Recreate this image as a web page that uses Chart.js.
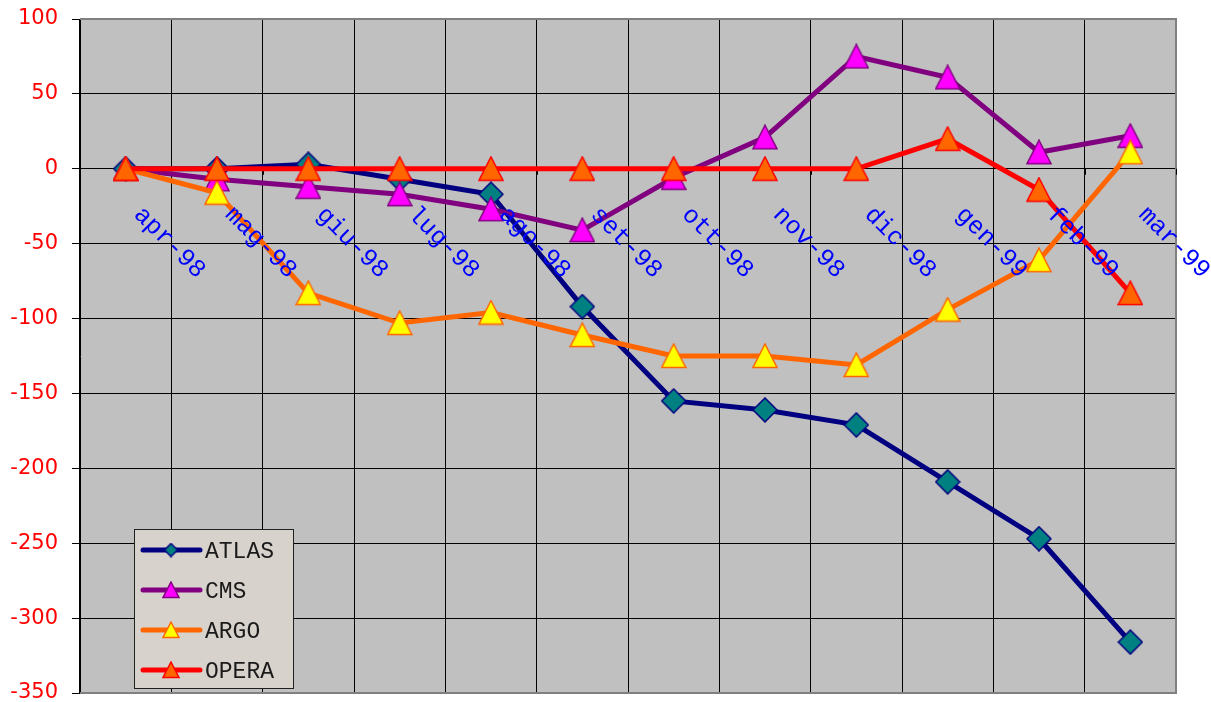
<!DOCTYPE html>
<html>
<head>
<meta charset="utf-8">
<script src="https://cdn.jsdelivr.net/npm/chart.js@4.4.1/dist/chart.umd.min.js"></script>
<style>
  html, body { margin: 0; padding: 0; background: #fff; }
</style>
</head>
<body>
<canvas id="chart" width="1211" height="702"></canvas>
<script>
// Chart data
const months = ["apr-98", "mag-98", "giu-98", "lug-98", "ago-98", "set-98", "ott-98", "nov-98", "dic-98", "gen-99", "feb-99", "mar-99"]
const atlas = [0, 0, 3, -7, -17, -92, -155, -161, -171, -209, -247, -316]
const cms = [0, -7, -12, -17, -27, -41, -6, 21, 75, 61, 11, 22]
const argo = [0, -16, -83, -103, -96, -111, -125, -125, -131, -94, -61, 11]
const opera = [0, 0, 0, 0, 0, 0, 0, 0, 0, 20, -14, -83]
const yTicks = [100, 50, 0, -50, -100, -150, -200, -250, -300, -350]

// Build marker images
function makeMarker(shape, fill, stroke, size) {
  const c = document.createElement("canvas")
  c.width = size
  c.height = size
  const g = c.getContext("2d")
  const s = size
  g.beginPath()
  if (shape === "diamond") {
    g.moveTo(s / 2, 1)
    g.lineTo(s - 1, s / 2)
    g.lineTo(s / 2, s - 1)
    g.lineTo(1, s / 2)
  } else {
    g.moveTo(s / 2, 1)
    g.lineTo(s - 1, s - 1.5)
    g.lineTo(1, s - 1.5)
  }
  g.closePath()
  g.fillStyle = fill
  g.fill()
  g.lineWidth = 1.5
  g.strokeStyle = stroke
  g.stroke()
  return c
}

const series = [
  { label: "ATLAS", data: atlas, line: "#000080", shape: "diamond", fill: "#008080", stroke: "#000080" },
  { label: "CMS", data: cms, line: "#800080", shape: "triangle", fill: "#FF00FF", stroke: "#800080" },
  { label: "ARGO", data: argo, line: "#FF6600", shape: "triangle", fill: "#FFFF00", stroke: "#FF6600" },
  { label: "OPERA", data: opera, line: "#FF0000", shape: "triangle", fill: "#FF6600", stroke: "#FF0000" },
]
series.forEach((s) => {
  s.marker = makeMarker(s.shape, s.fill, s.stroke, 26)
  s.small = makeMarker(s.shape, s.fill, s.stroke, s.shape === "diamond" ? 15 : 18)
})

// Grey plot background and frame
const plotBackground = {
  id: "plotBackground",
  beforeDraw(chart) {
    const { ctx, chartArea: a } = chart
    ctx.save()
    ctx.fillStyle = "#C0C0C0"
    ctx.fillRect(a.left, a.top, a.right - a.left, a.bottom - a.top)
    ctx.restore()
  },
  beforeDatasetsDraw(chart) {
    const { ctx, chartArea: a, scales } = chart
    ctx.save()
    ctx.strokeStyle = "#808080"
    ctx.lineWidth = 2
    ctx.beginPath()
    ctx.moveTo(a.left, a.top)
    ctx.lineTo(a.right, a.top)
    ctx.lineTo(a.right, a.bottom)
    ctx.lineTo(a.left, a.bottom)
    ctx.stroke()
    // small ticks under the zero line
    const y0 = scales.y.getPixelForValue(0)
    ctx.strokeStyle = "#000"
    ctx.lineWidth = 1
    for (let i = 0; i <= months.length; i++) {
      const px = Math.round(scales.x.getPixelForValue(i - 0.5)) + 0.5
      ctx.beginPath()
      ctx.moveTo(px, y0)
      ctx.lineTo(px, y0 + 6)
      ctx.stroke()
    }
    ctx.restore()
  },
}

// Rotated category labels along the zero line
const categoryLabels = {
  id: "categoryLabels",
  afterDatasetsDraw(chart) {
    const { ctx, scales } = chart
    const y0 = scales.y.getPixelForValue(0)
    ctx.save()
    ctx.font = '25px "Liberation Mono"'
    ctx.fillStyle = "#0000FF"
    ctx.textBaseline = "middle"
    ctx.textAlign = "left"
    months.forEach((m, i) => {
      const px = scales.x.getPixelForValue(i)
      ctx.save()
      ctx.translate(px + 12, y0 + 42)
      ctx.rotate(Math.PI / 4)
      ctx.fillText(m, 0, 0)
      ctx.restore()
    })
    ctx.restore()
  },
}

// Boxed legend inside the plot
const boxLegend = {
  id: "boxLegend",
  afterDraw(chart) {
    const { ctx } = chart
    const bx = 134, by = 529, bw = 159, bh = 159
    ctx.save()
    ctx.fillStyle = "#D8D2CD"
    ctx.fillRect(bx, by, bw, bh)
    ctx.strokeStyle = "#202020"
    ctx.lineWidth = 1
    ctx.strokeRect(bx + 0.5, by + 0.5, bw, bh)
    ctx.font = '23px "Liberation Mono"'
    ctx.fillStyle = "#1a1a1a"
    ctx.textBaseline = "middle"
    series.forEach((s, i) => {
      const cy = 550 + i * 40
      ctx.strokeStyle = s.line
      ctx.lineWidth = 5
      ctx.lineCap = "round"
      ctx.beginPath()
      ctx.moveTo(143, cy)
      ctx.lineTo(200, cy)
      ctx.stroke()
      ctx.drawImage(s.small, 171 - s.small.width / 2, cy - s.small.height / 2)
      ctx.fillText(s.label, 205, cy + 2)
    })
    ctx.restore()
  },
}

new Chart(document.getElementById("chart"), {
  type: "line",
  data: {
    labels: months,
    datasets: series.map((s, i) => ({
      label: s.label,
      data: s.data,
      borderColor: s.line,
      borderWidth: 5,
      tension: 0,
      pointStyle: s.marker,
      pointRadius: 13,
      order: series.length - i,
    })),
  },
  options: {
    responsive: false,
    animation: false,
    layout: { autoPadding: false, padding: { top: 19, right: 35, bottom: 9, left: 0 } },
    scales: {
      x: {
        type: "category",
        offset: true,
        grid: { display: true, offset: true, color: "#000", lineWidth: 1, drawTicks: false },
        border: { display: false },
        ticks: { display: false, padding: 0 },
        afterFit: (scale) => {
          scale.height = 0
          scale.paddingLeft = 0
          scale.paddingRight = 0
        },
      },
      y: {
        min: -350,
        max: 100,
        afterBuildTicks: (scale) => { scale.ticks = yTicks.map((v) => ({ value: v })) },
        grid: { color: "#000", lineWidth: 1, tickLength: 8 },
        border: { display: true, color: "#000", width: 1 },
        ticks: {
          color: "#FF0000",
          padding: 14,
          font: { family: "DejaVu Sans", size: 21 },
          callback: (v) => String(v),
        },
        afterFit: (scale) => {
          scale.width = 80
          scale.paddingTop = 0
          scale.paddingBottom = 0
        },
      },
    },
    plugins: {
      legend: { display: false },
      tooltip: { enabled: false },
    },
  },
  plugins: [plotBackground, categoryLabels, boxLegend],
})
</script>
</body>
</html>
